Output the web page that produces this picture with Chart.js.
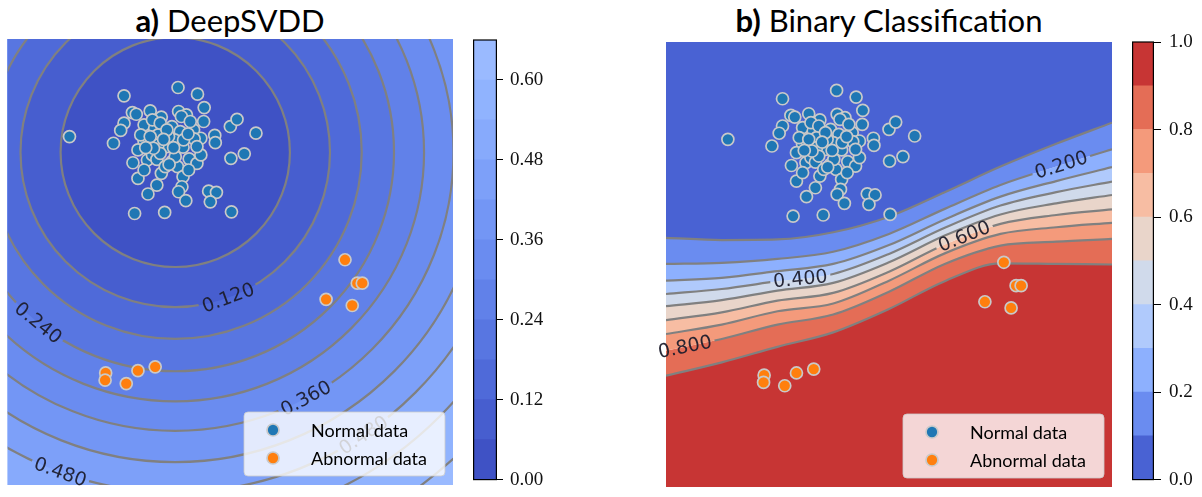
<!DOCTYPE html>
<html>
<head>
<meta charset="utf-8">
<script src="https://cdn.jsdelivr.net/npm/chart.js@4.4.1/dist/chart.umd.min.js"></script>
<style>
  html, body { margin:0; padding:0; background:#fff; }
  body { width:1202px; height:497px; overflow:hidden; position:relative; }
  canvas { position:absolute; display:block; }
  .title { position:absolute; top:3px; width:446px; text-align:center; font-family:Lato, "DejaVu Sans", sans-serif;
           font-size:31px; line-height:34px; color:#000; white-space:nowrap; }
  .title b { font-weight:700; }
</style>
</head>
<body>
<div class="title" style="left:7px;"><b>a)</b> DeepSVDD</div>
<div class="title" style="left:666px;"><b>b)</b> Binary Classification</div>
<canvas id="svdd" width="473" height="486" style="left:0px;top:19px;"></canvas>
<canvas id="svddBar" width="84" height="478" style="left:473px;top:20px;"></canvas>
<canvas id="clf" width="486" height="485" style="left:646px;top:22px;"></canvas>
<canvas id="clfBar" width="70" height="477" style="left:1132px;top:22px;"></canvas>
<script>
// ---------------- data ----------------
const normalX = [-2.89,-1.91,-0.94,-0.59,-0.47,-1.76,-1.69,-1.44,-1.24,-0.93,-0.79,-0.88,-1.91,-1.97,-2.10,
  -1.55,-1.36,-1.40,-1.30,-1.05,-0.90,-0.66,-0.48,-0.28,-0.27,-0.53,-0.65,-1.00,-0.85,-1.14,-1.30,-1.55,-1.66,
  -1.49,-1.40,-1.75,-1.32,-1.05,-0.95,-0.74,-0.60,-0.53,-1.66,-1.24,-0.85,-0.87,-1.32,-1.48,-0.93,-0.80,-0.39,
  -0.25,-0.36,-1.72,-1.18,0.02,0.00,0.12,0.46,0.01,0.25,-1.17,-1.11,-0.75,-1.26,-1.61,-1.55,-0.60,-0.99,-0.72,
  -1.44,-1.14,-1.26,-0.84,-1.38,-1.20,-1.02,-0.76,-1.52,-1.10];
const normalY = [2.25,2.98,3.13,3.01,2.77,2.68,2.65,2.71,2.60,2.70,2.64,2.61,2.49,2.36,2.13,
  2.46,2.40,2.55,2.28,2.43,2.34,2.37,2.52,2.27,2.14,2.22,2.21,2.19,2.06,2.07,2.10,2.16,2.01,
  1.83,1.92,1.78,1.84,1.80,1.71,1.85,1.77,1.92,1.50,1.59,1.53,1.35,1.38,1.22,1.26,1.10,1.27,
  1.25,1.08,0.87,0.89,0.90,2.43,2.56,2.31,1.86,1.94,1.71,2.25,1.65,2.49,2.28,1.65,2.07,1.89,2.52,
  2.25,2.37,1.95,2.19,2.04,2.20,2.05,2.30,2.05,1.75];
const abnormalX = [2.06,2.28,2.37,1.72,2.19,-2.24,-2.25,-1.87,-1.66,-1.35];
const abnormalY = [0.04,-0.38,-0.38,-0.67,-0.78,-1.99,-2.12,-2.18,-1.95,-1.88];

// DeepSVDD score: contour levels and the radius (data units) of each circular contour (levels 0.06 ... 0.66)
const svddLevels = [0,0.06,0.12,0.18,0.24,0.30,0.36,0.42,0.48,0.54,0.60,0.66];
const svddRadii  = [2.06,2.78,3.35,3.93,4.47,5.00,5.56,6.10,6.71,7.43,8.25];
const svddCenter = [-0.99, 1.97];
const svddTicks  = [0,0.12,0.24,0.36,0.48,0.60];

// Binary classifier probability: contour lines (y at each grid x) for levels 0.1 ... 0.9
const clfLevels = [0,0.1,0.2,0.3,0.4,0.5,0.6,0.7,0.8,0.9,1.0];
const clfGridX  = [-4,-3,-2,-1,0,1,2,3,4];
const clfLine01 = [0.48,0.44,0.45,0.58,0.86,1.30,1.76,2.17,2.55];
const clfLine02 = [0.01,0.03,0.10,0.23,0.55,1.00,1.43,1.76,2.07];
const clfLine03 = [-0.29,-0.24,-0.12,0.01,0.35,0.81,1.22,1.50,1.75];
const clfLine04 = [-0.53,-0.44,-0.30,-0.17,0.19,0.66,1.06,1.30,1.49];
const clfLine05 = [-0.75,-0.64,-0.47,-0.33,0.04,0.52,0.90,1.10,1.25];
const clfLine06 = [-1.00,-0.86,-0.65,-0.51,-0.13,0.36,0.73,0.89,0.99];
const clfLine07 = [-1.25,-1.08,-0.84,-0.70,-0.29,0.20,0.55,0.67,0.75];
const clfLine08 = [-1.55,-1.34,-1.08,-0.90,-0.49,0.01,0.34,0.41,0.46];
const clfLine09 = [-2.00,-1.76,-1.48,-1.22,-0.80,-0.30,0.02,0.01,0.00];
const clfTicks  = [0,0.2,0.4,0.6,0.8,1.0];

// contour label placement (annotation, not data)
const svddLabelSpots = [{level:0.12, angle:-70},{level:0.24, angle:-128.8},{level:0.36, angle:-62},
                        {level:0.48, angle:-109.8},{level:0.48, angle:-56.3}];
const clfLabelSpots  = [{level:0.2, x:3.09},{level:0.4, x:-1.59},{level:0.6, x:1.35},{level:0.8, x:-3.66}];

// ---------------- styling ----------------
const CW = [[59,76,192],[68,90,204],[77,104,215],[87,117,225],[98,130,234],[108,142,241],[119,154,247],
  [130,165,251],[141,176,254],[152,185,255],[163,194,255],[174,201,253],[184,208,249],[194,213,244],
  [204,217,238],[213,219,230],[221,221,221],[229,216,209],[236,211,197],[241,204,184],[245,196,173],
  [247,187,160],[247,177,148],[247,166,135],[244,154,123],[241,141,111],[236,127,99],[229,112,88],
  [222,96,77],[213,80,66],[203,62,56],[192,40,47],[180,4,38]];
function coolwarm(t){
  t = Math.min(1, Math.max(0, t));
  const p = t*32, i = Math.min(31, Math.floor(p)), f = p - i, a = CW[i], b = CW[i+1];
  return 'rgb(' + a.map((v,j)=>Math.round(v + (b[j]-v)*f)).join(',') + ')';
}
const svddColors = svddLevels.slice(0,-1).map((l,k)=>coolwarm((l + svddLevels[k+1])/2/2.2));
const clfColors  = clfLevels.slice(0,-1).map((l,k)=>coolwarm((l + clfLevels[k+1])/2));
const GRAY = 'rgb(128,128,128)';
const LABEL_COLOR = 'rgba(28,28,44,0.95)';
const LABEL_FONT = '19px "DejaVu Sans"';

function pts(xs, ys){ return xs.map((x,i)=>({x, y:ys[i]})); }
function scatterSets(){
  return [
    {type:'scatter', label:'Normal data', data:pts(normalX, normalY), backgroundColor:'#1f77b4',
     borderColor:'#c9c9c9', borderWidth:1.7, pointRadius:6, pointHoverRadius:6},
    {type:'scatter', label:'Abnormal data', data:pts(abnormalX, abnormalY), backgroundColor:'#ff7f0e',
     borderColor:'#c9c9c9', borderWidth:1.7, pointRadius:6, pointHoverRadius:6}
  ];
}
function panelOptions(padding){
  return {
    responsive:false, devicePixelRatio:1, animation:false, events:[],
    layout:{padding},
    scales:{ x:{type:'linear', min:-4, max:4, display:false}, y:{type:'linear', min:-4, max:4, display:false} },
    plugins:{ legend:{display:false}, tooltip:{enabled:false}, filler:{propagate:false, drawTime:'beforeDatasetsDraw'} }
  };
}
function gapClip(ctx, labs){
  ctx.beginPath();
  ctx.rect(-10, -10, ctx.canvas.width + 20, ctx.canvas.height + 20);
  for (const l of labs){
    const c = Math.cos(l.rot), s = Math.sin(l.rot);
    [[-l.hw,-l.hh],[l.hw,-l.hh],[l.hw,l.hh],[-l.hw,l.hh]].forEach(([u,v],i)=>{
      const X = l.px + u*c - v*s, Y = l.py + u*s + v*c;
      if (i) ctx.lineTo(X,Y); else ctx.moveTo(X,Y);
    });
    ctx.closePath();
  }
  ctx.clip('evenodd');
}
function drawLabels(ctx, labs){
  ctx.save();
  ctx.font = LABEL_FONT; ctx.fillStyle = LABEL_COLOR; ctx.textAlign = 'center'; ctx.textBaseline = 'middle';
  for (const l of labs){ ctx.save(); ctx.translate(l.px, l.py); ctx.rotate(l.rot); ctx.fillText(l.text, 0, 1); ctx.restore(); }
  ctx.restore();
}
function labelText(ctx, level){ ctx.save(); ctx.font = LABEL_FONT; const t = level.toFixed(3); const w = ctx.measureText(t).width; ctx.restore(); return {t, w}; }
const near = (a,b)=>Math.abs(a-b) < 1e-9;

const legendPlugin = {
  id:'mplLegend',
  afterDraw(chart){
    const {ctx, chartArea:a} = chart;
    const w = 201, h = 64, x = a.right - 8 - w, y = a.bottom - 9 - h, r = 4;
    ctx.save();
    ctx.beginPath();
    ctx.moveTo(x+r, y); ctx.lineTo(x+w-r, y); ctx.arcTo(x+w, y, x+w, y+r, r);
    ctx.lineTo(x+w, y+h-r); ctx.arcTo(x+w, y+h, x+w-r, y+h, r);
    ctx.lineTo(x+r, y+h); ctx.arcTo(x, y+h, x, y+h-r, r);
    ctx.lineTo(x, y+r); ctx.arcTo(x, y, x+r, y, r); ctx.closePath();
    ctx.fillStyle = 'rgba(255,255,255,0.8)'; ctx.fill();
    ctx.strokeStyle = 'rgba(204,204,204,0.8)'; ctx.lineWidth = 1; ctx.stroke();
    [0,1].forEach(i=>{
      const ds = chart.data.datasets[i], cy = y + 18 + 28*i;
      ctx.beginPath(); ctx.arc(x + 29, cy, ds.pointRadius, 0, Math.PI*2);
      ctx.fillStyle = ds.backgroundColor; ctx.fill();
      ctx.strokeStyle = ds.borderColor; ctx.lineWidth = ds.borderWidth; ctx.stroke();
      ctx.fillStyle = '#000'; ctx.font = '18px Lato'; ctx.textBaseline = 'middle'; ctx.textAlign = 'left';
      ctx.fillText(ds.label, x + 67, cy + 1);
    });
    ctx.restore();
  }
};

// ---------------- a) DeepSVDD ----------------
function svddGeom(chart){
  const xs = chart.scales.x, ys = chart.scales.y;
  return { cx: xs.getPixelForValue(svddCenter[0]), cy: ys.getPixelForValue(svddCenter[1]),
           sx: Math.abs(xs.getPixelForValue(1) - xs.getPixelForValue(0)),
           sy: Math.abs(ys.getPixelForValue(1) - ys.getPixelForValue(0)) };
}
function svddLabelItems(chart){
  const g = svddGeom(chart), ctx = chart.ctx;
  return svddLabelSpots.map(s=>{
    const k = svddLevels.findIndex(l=>near(l, s.level)) - 1;
    const r = svddRadii[k], th = s.angle*Math.PI/180;
    let rot = Math.atan2(-Math.cos(th)*g.sy, -Math.sin(th)*g.sx);
    if (rot > Math.PI/2) rot -= Math.PI; if (rot < -Math.PI/2) rot += Math.PI;
    const {t, w} = labelText(ctx, s.level);
    return {level:s.level, text:t, px:g.cx + r*g.sx*Math.cos(th), py:g.cy - r*g.sy*Math.sin(th), rot, hw:w/2 + 3, hh:8};
  });
}
const svddContours = {
  id:'svddContours',
  beforeDatasetsDraw(chart){
    const {ctx, chartArea:a} = chart, g = svddGeom(chart), labs = svddLabelItems(chart);
    ctx.save();
    ctx.beginPath(); ctx.rect(a.left, a.top, a.width, a.height); ctx.clip();
    for (let k = svddRadii.length - 1; k >= 0; k--){
      ctx.beginPath(); ctx.ellipse(g.cx, g.cy, svddRadii[k]*g.sx, svddRadii[k]*g.sy, 0, 0, Math.PI*2);
      ctx.fillStyle = svddColors[k]; ctx.fill();
    }
    ctx.restore();
    svddRadii.forEach((r,k)=>{
      const level = svddLevels[k+1];
      ctx.save();
      ctx.beginPath(); ctx.rect(a.left, a.top, a.width, a.height); ctx.clip();
      const mine = labs.filter(l=>near(l.level, level));
      if (mine.length) gapClip(ctx, mine);
      ctx.beginPath(); ctx.ellipse(g.cx, g.cy, r*g.sx, r*g.sy, 0, 0, Math.PI*2);
      ctx.strokeStyle = GRAY; ctx.lineWidth = 2.2; ctx.stroke();
      ctx.restore();
    });
  },
  afterDatasetsDraw(chart){ drawLabels(chart.ctx, svddLabelItems(chart)); }
};
new Chart(document.getElementById('svdd'), {
  type:'scatter',
  data:{ datasets: scatterSets() },
  options: panelOptions({left:7, top:20, right:20, bottom:20}),
  plugins:[svddContours, legendPlugin]
});

// ---------------- b) Binary classification ----------------
const clfLines = [clfLine01,clfLine02,clfLine03,clfLine04,clfLine05,clfLine06,clfLine07,clfLine08,clfLine09];
const clfSets = scatterSets();
clfLines.forEach((ys,k)=>{
  clfSets.push({type:'line', level:clfLevels[k+1], data:pts(clfGridX, ys), borderColor:GRAY, borderWidth:2.2,
    pointRadius:0, pointHoverRadius:0, cubicInterpolationMode:'monotone',
    fill: k === 0 ? 'end' : '-1', backgroundColor: clfColors[k]});
});
clfSets.push({type:'line', data:pts(clfGridX, clfLine09), borderWidth:0, borderColor:'rgba(0,0,0,0)',
  pointRadius:0, pointHoverRadius:0, cubicInterpolationMode:'monotone', fill:'start', backgroundColor: clfColors[9]});

const clfContours = {
  id:'clfContours',
  beforeDatasetsDraw(chart){
    const xs = chart.scales.x, ctx = chart.ctx;
    chart.$clfLabs = clfLabelSpots.map(s=>{
      const idx = chart.data.datasets.findIndex(d=>d.level != null && near(d.level, s.level));
      const line = chart.getDatasetMeta(idx).dataset;
      line.updateControlPoints(chart.chartArea, 'x');
      const px = xs.getPixelForValue(s.x);
      const p = line.interpolate({x:px}, 'x'), p1 = line.interpolate({x:px-6}, 'x'), p2 = line.interpolate({x:px+6}, 'x');
      const {t, w} = labelText(ctx, s.level);
      return {level:s.level, text:t, px, py:p.y, rot:Math.atan2(p2.y-p1.y, p2.x-p1.x), hw:w/2 + 3, hh:4.5};
    });
  },
  beforeDatasetDraw(chart, args){
    const ds = chart.data.datasets[args.index];
    chart.$clipped = false;
    if (ds.level == null || !chart.$clfLabs) return;
    const mine = chart.$clfLabs.filter(l=>near(l.level, ds.level));
    if (!mine.length) return;
    chart.ctx.save(); gapClip(chart.ctx, mine); chart.$clipped = true;
  },
  afterDatasetDraw(chart){ if (chart.$clipped){ chart.ctx.restore(); chart.$clipped = false; } },
  afterDatasetsDraw(chart){ drawLabels(chart.ctx, chart.$clfLabs || []); }
};
new Chart(document.getElementById('clf'), {
  type:'scatter',
  data:{ datasets: clfSets },
  options: panelOptions({left:20, top:20, right:20, bottom:20}),
  plugins:[clfContours, legendPlugin]
});

// ---------------- colorbars ----------------
const outlinePlugin = {
  id:'cbOutline',
  afterDraw(chart){
    const {ctx, chartArea:a} = chart;
    ctx.save(); ctx.strokeStyle = '#000'; ctx.lineWidth = 1.2;
    ctx.strokeRect(a.left + 0.6, a.top, a.width - 1.2, a.height); ctx.restore();
  }
};
function colorbar(id, levels, colors, ticks, decimals, axisWidth, tickLen, pad, padding){
  const datasets = colors.map((c,i)=>({data:[[levels[i], levels[i+1]]], backgroundColor:c, borderWidth:0,
    barPercentage:1, categoryPercentage:1, grouped:false}));
  new Chart(document.getElementById(id), {
    type:'bar',
    data:{ labels:[''], datasets },
    options:{
      responsive:false, devicePixelRatio:1, animation:false, events:[],
      layout:{padding},
      plugins:{ legend:{display:false}, tooltip:{enabled:false} },
      scales:{
        x:{display:false},
        y:{type:'linear', position:'right', min:levels[0], max:levels[levels.length-1],
           afterFit(s){ s.width = axisWidth; },
           afterBuildTicks(s){ s.ticks = ticks.map(v=>({value:v})); },
           ticks:{ callback:v=>Number(v).toFixed(decimals), color:'#111', padding:pad,
                   font:{family:'"Liberation Serif"', size:19} },
           grid:{ drawOnChartArea:false, drawTicks:true, tickLength:tickLen, color:'#000', lineWidth:1 },
           border:{display:false}}
      }
    },
    plugins:[outlinePlugin]
  });
}
colorbar('svddBar', svddLevels, svddColors, svddTicks, 2, 60, 6, 7, {top:20, bottom:12, left:0, right:0});
colorbar('clfBar', clfLevels, clfColors, clfTicks, 1, 48, 7, 8, {top:20, bottom:12, left:0, right:0});
</script>
</body>
</html>
